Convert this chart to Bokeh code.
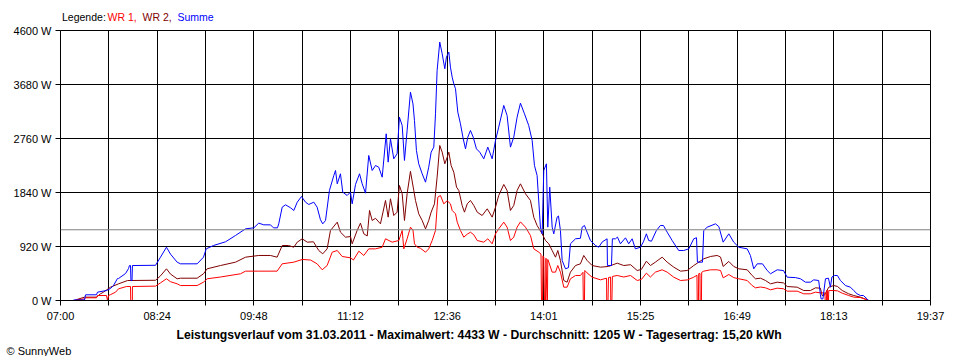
from bokeh.plotting import figure
from bokeh.models import Range1d, FixedTicker, Span, Title
from bokeh.layouts import column
from bokeh.core.properties import value
from bokeh.embed import file_html
from bokeh.resources import INLINE

# x values: minutes after 07:00 ; y values: Watt
tick_labels = ["07:00", "08:24", "09:48", "11:12", "12:36", "14:01", "15:25", "16:49", "18:13", "19:37"]
y_tick_labels = ["0 W", "920 W", "1840 W", "2760 W", "3680 W", "4600 W"]
y_ticks = [0, 920, 1840, 2760, 3680, 4600]
average_w = 1205
x_span_min = 757

t_sum = [11.3, 20.9, 21.8, 31.3, 32.2, 40.0, 43.5, 46.1, 49.6, 50.5, 56.6, 59.2, 60.0, 60.9, 61.3, 62.2, 62.6,
         82.7, 87.0, 92.2, 95.7, 101.5, 104.4, 118.9, 124.4, 126.8, 133.1, 143.6, 152.3, 161.0, 168.2, 172.5,
         176.9, 182.7, 185.3, 188.8, 189.9, 192.9, 195.8, 200.1, 203.0, 206.0, 209.7, 213.2, 216.0, 220.4,
         223.3, 226.2, 228.2, 230.6, 234.0, 237.8, 239.3, 240.8, 243.6, 245.6, 249.4, 252.3, 253.8, 256.7,
         260.2, 262.5, 265.4, 268.2, 271.2, 274.1, 276.9, 279.9, 283.4, 285.1, 287.1, 290.0, 292.9, 294.9,
         297.3, 299.3, 301.6, 304.5, 306.7, 308.0, 309.7, 311.7, 314.7, 317.6, 320.4, 322.5, 324.8, 326.3,
         327.7, 330.0, 332.1, 334.4, 335.8, 337.9, 339.3, 340.8, 342.2, 343.7, 345.7, 348.0, 350.4, 352.4,
         354.4, 356.7, 359.1, 361.9, 364.8, 368.3, 371.8, 375.6, 378.5, 381.3, 385.7, 388.6, 391.5, 394.4,
         397.3, 400.2, 403.7, 407.4, 410.4, 412.4, 414.7, 417.6, 419.1, 420.5, 422.8, 424.0, 425.7, 427.8,
         429.2, 432.1, 433.3, 435.0, 436.5, 439.4, 442.0, 443.7, 448.1, 452.4, 453.9, 455.9, 458.2, 461.1,
         465.5, 468.3, 471.5, 475.6, 475.9, 479.4, 480.2, 482.9, 484.6, 487.2, 491.6, 494.4, 497.4, 500.2,
         504.6, 507.2, 509.8, 511.8, 514.2, 518.5, 522.0, 524.6, 527.9, 532.2, 537.9, 542.3, 546.7, 551.0,
         553.4, 554.2, 558.6, 559.7, 562.7, 569.9, 572.8, 576.6, 581.5, 585.8, 590.2, 597.5, 600.3, 603.2,
         606.2, 610.8, 614.9, 617.8, 623.6, 629.1, 632.3, 639.5, 643.9, 648.2, 652.5, 655.4, 659.7, 661.2,
         661.8, 663.4, 665.6, 668.2, 669.9, 671.2, 673.4, 676.0, 678.6, 683.0, 687.3, 690.2, 693.1, 696.0,
         698.6, 701.8, 703.2]
summe = [10, 10, 97, 97, 142, 170, 204, 255, 375, 375, 460, 545, 596, 596, 340, 340, 596,
         600, 738, 908, 790, 653, 625, 625, 738, 880, 937, 1000, 1108, 1221, 1238, 1318,
         1289, 1289, 1238, 1238, 1306, 1590, 1630, 1580, 1534, 1675, 1772, 1675, 1636, 1675,
         1590, 1375, 1306, 1363, 1874, 2130, 2215, 1988, 2159, 1846, 1789, 1846, 1647, 1977,
         2159, 1988, 1829, 2471, 2215, 2300, 2272, 2101, 2840, 2357, 2755, 2414, 2500, 3123,
         2982, 2386, 2897, 3550, 3350, 3067, 2556, 2329, 2159, 2016, 2272, 2527, 2613, 3181,
         3919, 4402, 4203, 3948, 4146, 4231, 3975, 3805, 3692, 3607, 3209, 3011, 2755, 2584,
         2783, 2897, 2783, 2584, 2527, 2414, 2613, 2414, 2726, 2953, 3323, 3152, 2613, 2783,
         3123, 3362, 3181, 2982, 2726, 2300, 2130, 1250, 1136, 2215, 2329, 1250, 1931, 1250,
         1136, 1420, 1440, 1193, 682, 540, 560, 966, 1051, 1060, 1249, 1278, 1164, 1022,
         937, 908, 1000, 1051, 596, 596, 1051, 1051, 1080, 966, 1068, 966, 1051, 880,
         908, 1000, 1136, 1022, 1010, 1193, 1278, 1278, 1164, 1022, 852, 852, 880, 1051,
         1070, 653, 653, 1193, 1249, 1306, 1260, 994, 1136, 994, 908, 880, 767, 540,
         625, 625, 511, 455, 523, 510, 397, 390, 370, 312, 312, 352, 341, 100,
         28, 28, 370, 380, 227, 400, 426, 426, 341, 255, 227, 170, 114, 85,
         85, 28, 0]

t_wr2 = [13.1, 20.9, 31.3, 34.8, 37.4, 43.5, 50.5, 58.3, 82.7, 87.0, 92.2, 95.7, 101.5, 104.4, 118.9,
         124.4, 127.6, 139.2, 152.3, 161.0, 172.5, 182.7, 188.5, 192.9, 198.4, 203.0, 206.0, 210.3,
         214.7, 220.1, 224.7, 228.2, 232.0, 234.9, 240.8, 243.6, 248.0, 252.3, 253.8, 258.1, 261.0,
         263.9, 266.9, 268.9, 271.2, 274.1, 278.4, 282.8, 285.1, 287.1, 290.0, 292.9, 294.9, 297.3,
         299.3, 301.6, 304.5, 307.4, 308.9, 311.7, 314.7, 317.6, 320.4, 322.5, 325.4, 327.7, 330.0,
         332.1, 334.4, 336.5, 337.9, 339.9, 342.2, 344.6, 346.6, 349.5, 351.5, 353.9, 356.7, 359.6,
         362.6, 366.9, 371.3, 375.6, 378.5, 381.3, 385.7, 388.6, 391.5, 394.4, 397.3, 400.2, 404.6,
         408.9, 411.8, 414.7, 419.1, 422.0, 424.9, 427.8, 430.7, 432.7, 435.0, 437.9, 440.8, 443.7,
         448.1, 452.4, 455.3, 458.2, 462.6, 469.9, 476.8, 484.4, 490.1, 496.0, 501.8, 505.5, 509.8,
         513.3, 517.6, 523.5, 527.9, 533.6, 539.5, 545.3, 551.0, 559.7, 565.6, 571.4, 574.3, 576.6,
         581.5, 585.8, 590.2, 597.5, 601.8, 604.7, 609.1, 613.4, 617.8, 623.6, 629.1, 632.3, 641.0,
         646.7, 652.5, 656.9, 661.2, 662.7, 664.7, 668.5, 672.8, 676.0, 680.2, 685.8, 690.2, 696.0,
         701.8, 703.2]
wr2 = [10, 57, 57, 114, 142, 227, 284, 340, 345, 420, 540, 450, 370, 380, 380,
       455, 540, 596, 653, 738, 767, 767, 738, 937, 937, 908, 994, 1051,
       994, 1000, 852, 795, 880, 1193, 1335, 1164, 1079, 1090, 966, 1193, 1318,
       1136, 1100, 1534, 1363, 1400, 1306, 1704, 1420, 1733, 1448, 1505, 1960, 1818,
       1363, 1818, 2200, 1874, 1704, 1477, 1363, 1221, 1363, 1505, 1647, 2101, 2641,
       2527, 2329, 2442, 2527, 2300, 2186, 1931, 1874, 1619, 1505, 1647, 1704, 1620,
       1505, 1448, 1562, 1420, 1590, 1789, 1977, 1874, 1534, 1620, 1874, 1988, 1818,
       1704, 1420, 1278, 1136, 1022, 966, 852, 738, 852, 682, 341, 312, 483,
       596, 625, 767, 682, 596, 568, 580, 636, 596, 610, 511, 530, 670,
       596, 653, 738, 653, 568, 500, 511, 596, 710, 750, 767, 740, 580,
       665, 580, 540, 523, 426, 370, 380, 341, 284, 312, 300, 238, 227,
       170, 170, 216, 210, 85, 90, 227, 255, 240, 170, 114, 85, 57,
       12, 0]

t_wr1 = [13.1, 20.9, 21.8, 31.3, 32.2, 40.0, 40.9, 41.8, 43.5, 47.9, 50.5, 57.4, 60.9, 61.1, 62.5, 62.6,
         82.7, 87.0, 92.2, 95.7, 101.5, 104.4, 118.9, 124.4, 127.6, 139.2, 156.6, 161.0, 172.5, 188.5,
         192.9, 203.0, 210.3, 217.5, 223.3, 227.7, 232.0, 236.4, 240.8, 245.1, 252.3, 254.9, 259.6,
         263.9, 268.2, 274.1, 279.9, 282.8, 288.6, 294.4, 297.3, 298.7, 301.6, 304.5, 306.7, 308.0,
         310.4, 313.2, 317.6, 320.4, 323.4, 326.3, 328.3, 330.6, 333.5, 336.5, 339.3, 340.8, 343.7,
         345.2, 348.0, 350.9, 353.9, 356.7, 359.6, 362.6, 368.3, 371.8, 375.6, 378.5, 381.3, 385.7,
         388.6, 391.5, 394.4, 397.3, 400.2, 404.6, 408.9, 411.8, 416.2, 418.1, 418.5, 419.4, 419.8,
         420.5, 421.1, 422.0, 422.4, 423.3, 423.7, 424.0, 424.9, 427.8, 430.7, 432.7, 435.0, 437.9,
         440.8, 443.7, 448.1, 452.4, 454.6, 454.9, 455.9, 456.2, 458.2, 462.6, 469.9, 475.1, 475.3,
         476.4, 476.8, 478.6, 478.8, 479.8, 480.2, 484.4, 490.1, 496.0, 501.8, 505.5, 509.8, 513.3,
         517.6, 523.5, 527.9, 533.6, 539.5, 545.3, 551.0, 553.8, 554.0, 555.1, 555.3, 556.4, 556.6,
         557.7, 557.9, 559.7, 565.6, 571.4, 574.3, 576.6, 581.5, 585.8, 590.2, 597.5, 601.8, 604.7,
         609.1, 613.4, 617.8, 623.6, 629.1, 632.3, 641.0, 646.7, 652.5, 656.9, 661.2, 665.1, 665.4,
         666.4, 666.7, 667.3, 667.5, 668.2, 668.5, 672.8, 676.0, 680.2, 685.8, 690.2, 696.0, 701.8,
         703.2]
wr1 = [10, 28, 46, 46, 85, 85, 0, 85, 100, 142, 199, 238, 238, 0, 0, 238,
       245, 300, 370, 320, 284, 255, 255, 312, 370, 400, 455, 500, 500, 500,
       625, 653, 699, 690, 625, 523, 596, 823, 852, 750, 727, 690, 840,
       767, 880, 880, 908, 1051, 994, 1022, 1193, 880, 1051, 1249, 1200, 966,
       908, 890, 823, 880, 1022, 1193, 1760, 1789, 1647, 1700, 1647, 1534, 1477,
       1335, 1193, 1079, 1130, 1164, 1120, 1022, 994, 1051, 966, 1136, 1221, 1335,
       1249, 1022, 1080, 1249, 1340, 1249, 1108, 880, 823, 790, 0, 0, 760,
       738, 0, 0, 720, 0, 0, 700, 653, 483, 483, 596, 483, 227,
       227, 370, 426, 426, 480, 0, 0, 511, 470, 397, 352, 380, 0,
       0, 390, 400, 0, 0, 410, 426, 400, 426, 341, 360, 466, 400,
       483, 523, 483, 397, 341, 350, 397, 430, 0, 0, 455, 460, 0,
       0, 480, 500, 523, 523, 511, 386, 443, 390, 370, 341, 255, 216,
       230, 216, 182, 210, 200, 159, 159, 114, 114, 142, 130, 130, 0,
       0, 170, 170, 0, 0, 170, 170, 165, 125, 85, 57, 50, 12,
       0]

legend_texts = ["Legende:", "WR 1,", "WR 2,", "Summe"]
legend_colors = ["black", "#ff0000", "#800000", "#0000ff"]
footer_title = "Leistungsverlauf vom 31.03.2011 - Maximalwert: 4433 W - Durchschnitt: 1205 W - Tagesertrag: 15,20 kWh"
copyright_text = "\u00a9 SunnyWeb"

W = 952
HEAD_H = 24
FRAME_L, FRAME_R, FRAME_W, FRAME_H = 60, 930, 870, 270
FONT = "Liberation Sans"

# header strip: its frame is aligned with the chart frame (page x 60..930)
head = figure(width=W, height=HEAD_H, output_backend="svg", toolbar_location=None,
              x_range=Range1d(FRAME_L, FRAME_R), y_range=Range1d(HEAD_H, 0),
              x_axis_type=None, y_axis_type=None,
              min_border_left=FRAME_L, min_border_right=W - FRAME_R, min_border_top=0, min_border_bottom=0,
              background_fill_color="white", border_fill_color="white")
head.outline_line_color = None
head.xgrid.visible = False
head.ygrid.visible = False
head.text(x=[61.5, 107, 142, 177], y=[16.5] * 4, text=legend_texts, text_color=legend_colors,
          text_font=value(FONT), text_font_size="10.5px", text_baseline="alphabetic", text_align="left")

# main chart
p = figure(frame_width=FRAME_W, frame_height=FRAME_H, output_backend="svg", toolbar_location=None,
           x_range=Range1d(0, x_span_min), y_range=Range1d(0, 4600),
           min_border_left=FRAME_L, min_border_right=W - FRAME_R,
           min_border_top=30 - HEAD_H, min_border_bottom=0,
           background_fill_color="white", border_fill_color="white")
p.outline_line_color = "black"
p.outline_line_width = 1

grid_ticks = [x_span_min * k / 18 for k in range(19)]
label_ticks = grid_ticks[::2]

p.xaxis.ticker = FixedTicker(ticks=grid_ticks)
overrides = {t: "" for t in grid_ticks}
overrides.update({t: lab for t, lab in zip(label_ticks, tick_labels)})
p.xaxis.major_label_overrides = overrides
p.xgrid.ticker = FixedTicker(ticks=grid_ticks)
p.yaxis.ticker = FixedTicker(ticks=y_ticks)
p.yaxis.major_label_overrides = {t: lab for t, lab in zip(y_ticks, y_tick_labels)}
p.ygrid.ticker = FixedTicker(ticks=y_ticks)

for g in (p.xgrid, p.ygrid):
    g.grid_line_color = "black"
    g.grid_line_width = 1
    g.grid_line_alpha = 1

for ax in (p.xaxis, p.yaxis):
    ax.axis_line_color = "black"
    ax.major_tick_line_color = "black"
    ax.major_tick_in = 0
    ax.major_tick_out = 5
    ax.minor_tick_line_color = None
    ax.major_label_text_font = FONT
    ax.major_label_text_font_size = "11px"
    ax.major_label_text_color = "black"
    ax.major_label_standoff = 4

p.add_layout(Span(location=average_w, dimension="width", line_color="#808080", line_width=1))

p.line(t_wr2, wr2, line_color="#800000", line_width=1)
p.line(t_wr1, wr1, line_color="#ff0000", line_width=1)
p.line(t_sum, summe, line_color="#0000ff", line_width=1)

p.add_layout(Title(text=footer_title, align="left", offset=176 - FRAME_L, text_font=FONT,
                   text_font_size="12.2px", text_font_style="bold", text_color="black", standoff=2), "below")
p.add_layout(Title(text=copyright_text, align="left", offset=-(FRAME_L - 6), text_font=FONT,
                   text_font_size="11px", text_font_style="normal", text_color="black", standoff=0), "below")

layout = column(head, p, spacing=0)
open("out.html", "w").write(file_html(layout, INLINE))
